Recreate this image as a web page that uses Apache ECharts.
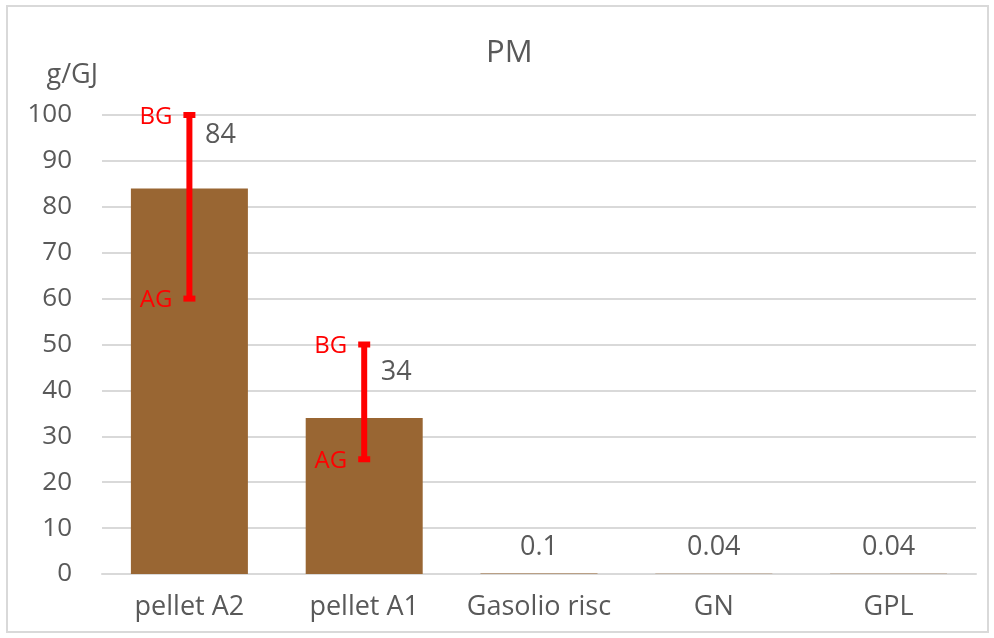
<!DOCTYPE html>
<html>
<head>
<meta charset="utf-8">
<script src="https://cdn.jsdelivr.net/npm/echarts@6/dist/echarts.min.js"></script>
<style>
  html, body { margin: 0; padding: 0; background: #fff; }
  #chart { width: 994px; height: 638px; }
</style>
</head>
<body>
<div id="chart"></div>
<script>
// dati
const categories = ['pellet A2', 'pellet A1', 'Gasolio risc', 'GN', 'GPL'];
const pmValues = [84, 34, 0.1, 0.04, 0.04];
const rangeCats = [0, 1];        // categorie con intervallo AG / BG
const rangeLow = [60, 25];       // AG
const rangeHigh = [100, 50];     // BG
const yTicks = { min: 0, max: 100, step: 10 };

// spostamento etichette valore (stile)
const labelShift = [[31, -35], [32, -27], [0, -8], [0, -8], [0, -8]];

const grey = '#595959';
const font = 'Open Sans';

const chart = echarts.init(document.getElementById('chart'));

const errData = rangeCats.map((c, i) => [c, rangeLow[i], rangeHigh[i]]);

chart.setOption({
  animation: false,
  textStyle: { fontFamily: font },
  title: {
    text: 'PM',
    left: 481,
    top: 33,
    textStyle: { fontFamily: font, fontSize: 31, fontWeight: 'normal', color: grey }
  },
  graphic: [{
    type: 'rect',
    shape: { x: 7, y: 6, width: 981, height: 626 },
    style: { fill: 'none', stroke: '#d9d9d9', lineWidth: 2 },
    silent: true
  }],
  grid: { left: 102, right: 18, top: 115, bottom: 64 },
  xAxis: {
    type: 'category',
    data: categories,
    axisLine: { lineStyle: { color: '#d9d9d9', width: 2 } },
    axisTick: { show: false },
    axisLabel: { interval: 0, color: grey, fontSize: 27, margin: 20, fontFamily: font }
  },
  yAxis: {
    type: 'value',
    min: yTicks.min,
    max: yTicks.max,
    interval: yTicks.step,
    name: 'g/GJ',
    nameLocation: 'end',
    nameGap: 40,
    nameTextStyle: { color: grey, fontSize: 27, fontFamily: font, align: 'right', verticalAlign: 'middle', padding: [0, 4, 0, 0] },
    axisLine: { show: false },
    axisTick: { show: false },
    axisLabel: { color: grey, fontSize: 26, margin: 30, fontFamily: font },
    splitLine: { lineStyle: { color: '#d9d9d9', width: 2 } }
  },
  series: [
    {
      type: 'bar',
      barWidth: 117,
      data: pmValues.map((v, i) => ({
        value: v,
        label: { offset: labelShift[i] }
      })),
      itemStyle: { color: '#996633' },
      label: {
        show: true,
        position: 'top',
        color: grey,
        fontSize: 27,
        fontFamily: font
      }
    },
    {
      type: 'custom',
      data: errData,
      z: 10,
      renderItem: function (params, api) {
        const x = api.value(0);
        const top = api.coord([x, api.value(2)]);
        const bot = api.coord([x, api.value(1)]);
        const red = '#ff0000';
        const cap = 6;
        return {
          type: 'group',
          children: [
            { type: 'line', shape: { x1: top[0], y1: top[1], x2: bot[0], y2: bot[1] }, style: { stroke: red, lineWidth: 6 } },
            { type: 'line', shape: { x1: top[0] - cap, y1: top[1], x2: top[0] + cap, y2: top[1] }, style: { stroke: red, lineWidth: 6 } },
            { type: 'line', shape: { x1: bot[0] - cap, y1: bot[1], x2: bot[0] + cap, y2: bot[1] }, style: { stroke: red, lineWidth: 6 } },
            { type: 'text', style: { text: 'BG', x: top[0] - 17, y: top[1] + 2, align: 'right', verticalAlign: 'middle', fill: red, fontSize: 24, fontFamily: font } },
            { type: 'text', style: { text: 'AG', x: bot[0] - 17, y: bot[1] + 2, align: 'right', verticalAlign: 'middle', fill: red, fontSize: 24, fontFamily: font } }
          ]
        };
      }
    }
  ]
});
</script>
</body>
</html>
